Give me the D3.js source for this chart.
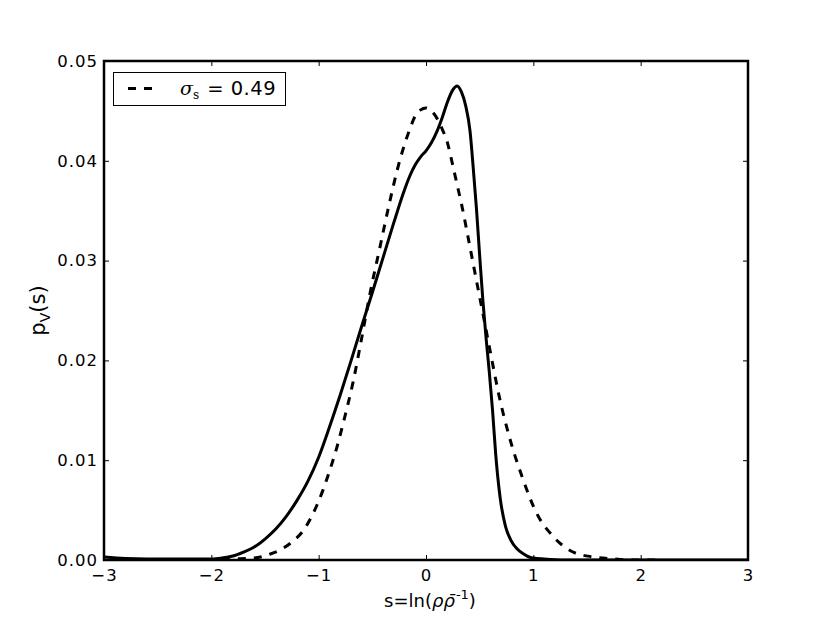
<!DOCTYPE html>
<html lang="en">
<head>
<meta charset="UTF-8">
<title>Volume-weighted density PDF</title>
<script src="https://d3js.org/d3.v7.min.js"></script>
<style>
  body { margin: 0; background: #fff; }
  text { font-family: "DejaVu Sans", sans-serif; fill: #000; }
</style>
</head>
<body>
<svg width="830" height="623"></svg>
<script>
// solid curve: measured PDF, s = ln(rho / rho_mean)
const solidS = [-3.0, -2.8, -2.6, -2.4, -2.2, -2.0, -1.9, -1.8, -1.7, -1.6, -1.5, -1.4, -1.3, -1.2, -1.1, -1.0,
  -0.9, -0.8, -0.7, -0.6, -0.5, -0.4, -0.3, -0.2, -0.15, -0.1, -0.05, 0.0, 0.05, 0.1, 0.15, 0.2, 0.25, 0.29,
  0.33, 0.37, 0.41, 0.44, 0.47, 0.5, 0.53, 0.56, 0.59, 0.62, 0.65, 0.69, 0.74, 0.79, 0.85, 0.91,
  0.96, 1.0, 1.1, 1.3, 1.6, 2.0, 2.5, 3.0];
const solidP = [0.0003, 0.00015, 0.0001, 0.0001, 0.0001, 0.0001, 0.0002, 0.0004, 0.0008, 0.0013, 0.0021, 0.0031, 0.0044, 0.0060, 0.0079, 0.0103,
  0.0133, 0.0165, 0.0199, 0.0234, 0.0268, 0.0303, 0.0338, 0.0371, 0.0385, 0.0396, 0.0404, 0.0410, 0.0418, 0.0429, 0.0443, 0.0459, 0.0471, 0.0475,
  0.0469, 0.0455, 0.0430, 0.0393, 0.0352, 0.0305, 0.0260, 0.0222, 0.0188, 0.0150, 0.0105, 0.0063, 0.0034, 0.0020, 0.0011, 0.0006,
  0.0003, 0.0002, 0.0001, 0.0, 0.0, 0.0, 0.0, 0.0];

// dashed curve: lognormal fit, sigma_s = 0.49
const dashS = [-2.2, -2.0, -1.8, -1.6, -1.45, -1.36, -1.25, -1.14, -1.05, -0.96, -0.89, -0.83, -0.76, -0.68,
  -0.6, -0.52, -0.43, -0.34, -0.27, -0.21, -0.15, -0.1, -0.05, 0.0, 0.05, 0.1, 0.15, 0.2, 0.24, 0.29,
  0.33, 0.4, 0.47, 0.55, 0.62, 0.68, 0.78, 0.9, 1.03, 1.19, 1.37, 1.56, 1.75, 1.95, 2.2];
const dashP = [0.0, 0.0, 0.0001, 0.0002, 0.0006, 0.0010, 0.0018, 0.0030, 0.0047, 0.0070, 0.0092, 0.0113, 0.0142, 0.0178,
  0.0222, 0.0268, 0.0313, 0.0358, 0.0390, 0.0413, 0.0432, 0.0445, 0.0451, 0.0453, 0.0450, 0.0443, 0.0432, 0.0418, 0.0400, 0.0376,
  0.0357, 0.0319, 0.0280, 0.0236, 0.0197, 0.0165, 0.0122, 0.0082, 0.0047, 0.0023, 0.0008, 0.0003, 0.0001, 0.0, 0.0];

const xTicks = [-3, -2, -1, 0, 1, 2, 3];
const yTicks = [0.00, 0.01, 0.02, 0.03, 0.04, 0.05];
const legendValue = "0.49";

const svg = d3.select("svg");
const pL = 104, pR = 748, pT = 61, pB = 560;

const x = d3.scaleLinear().domain([-3, 3]).range([pL, pR]);
const y = d3.scaleLinear().domain([0, 0.05]).range([pB, pT]);

const line = d3.line()
  .x(d => x(d[0]))
  .y(d => y(d[1]))
  .curve(d3.curveMonotoneX);

svg.append("clipPath").attr("id", "plot")
  .append("rect").attr("x", pL).attr("y", pT)
  .attr("width", pR - pL).attr("height", pB - pT);

const curves = svg.append("g").attr("clip-path", "url(#plot)");

curves.append("path")
  .datum(dashS.map((s, i) => [s, dashP[i]]))
  .attr("d", line)
  .attr("fill", "none")
  .attr("stroke", "#000")
  .attr("stroke-width", 3)
  .attr("stroke-dasharray", "8,8");

curves.append("path")
  .datum(solidS.map((s, i) => [s, solidP[i]]))
  .attr("d", line)
  .attr("fill", "none")
  .attr("stroke", "#000")
  .attr("stroke-width", 3)
  .attr("stroke-linejoin", "round");

// axes: ticks point inward, mirrored on top and right
const fmtX = d3.format("d");
const fmtY = d3.format(".2f");

const xb = svg.append("g").attr("transform", `translate(0,${pB})`)
  .call(d3.axisBottom(x).tickValues(xTicks).tickSize(-5).tickPadding(9).tickFormat(fmtX));
const xt = svg.append("g").attr("transform", `translate(0,${pT})`)
  .call(d3.axisTop(x).tickValues(xTicks).tickSize(-5).tickFormat(""));
const yl = svg.append("g").attr("transform", `translate(${pL},0)`)
  .call(d3.axisLeft(y).tickValues(yTicks).tickSize(-5).tickPadding(6).tickFormat(fmtY));
const yr = svg.append("g").attr("transform", `translate(${pR},0)`)
  .call(d3.axisRight(y).tickValues(yTicks).tickSize(-5).tickFormat(""));

[xb, xt, yl, yr].forEach(g => {
  g.select(".domain").remove();
  g.selectAll(".tick line").attr("stroke", "#000").attr("stroke-width", 1);
  g.selectAll(".tick text").style("font-family", "DejaVu Sans").style("font-size", "16.5px")
    .style("letter-spacing", "1px").attr("fill", "#000");
});
xb.selectAll(".tick text").attr("dy", "0.71em");

svg.append("rect")
  .attr("x", pL).attr("y", pT)
  .attr("width", pR - pL).attr("height", pB - pT)
  .attr("fill", "none").attr("stroke", "#000").attr("stroke-width", 2.5);

// axis labels
const xl = svg.append("text")
  .attr("x", (pL + pR) / 2 + 4).attr("y", 607)
  .attr("text-anchor", "middle").style("font-size", "18px");
xl.append("tspan").text("s=ln(");
xl.append("tspan").style("font-style", "italic").text("ρρ\u0304");
xl.append("tspan").attr("dy", -8).attr("dx", 1).style("font-size", "13px").text("-1");
xl.append("tspan").attr("dy", 8).text(")");

const ylab = svg.append("text")
  .attr("transform", `translate(45,${(pT + pB) / 2}) rotate(-90)`)
  .attr("text-anchor", "middle").style("font-size", "21px");
ylab.append("tspan").text("p");
ylab.append("tspan").attr("dy", 5).style("font-size", "14px").text("V");
ylab.append("tspan").attr("dy", -5).text("(s)");

// legend
const lg = svg.append("g");
lg.append("rect")
  .attr("x", 113.5).attr("y", 72.5).attr("width", 172).attr("height", 33)
  .attr("fill", "#fff").attr("stroke", "#000").attr("stroke-width", 1);
lg.append("line")
  .attr("x1", 128).attr("x2", 158).attr("y1", 88.5).attr("y2", 88.5)
  .attr("stroke", "#000").attr("stroke-width", 3).attr("stroke-dasharray", "8,8");
const lt = lg.append("text").attr("x", 180).attr("y", 95).style("font-size", "19px");
lt.append("tspan").style("font-family", "DejaVu Serif").style("font-style", "italic").text("σ");
lt.append("tspan").attr("dy", 4).style("font-family", "DejaVu Serif").style("font-size", "12px").text("s");
lt.append("tspan").attr("dy", -4).attr("dx", 8).style("font-size", "19.5px")
  .style("letter-spacing", "0.5px").text("= " + legendValue);
</script>
</body>
</html>
